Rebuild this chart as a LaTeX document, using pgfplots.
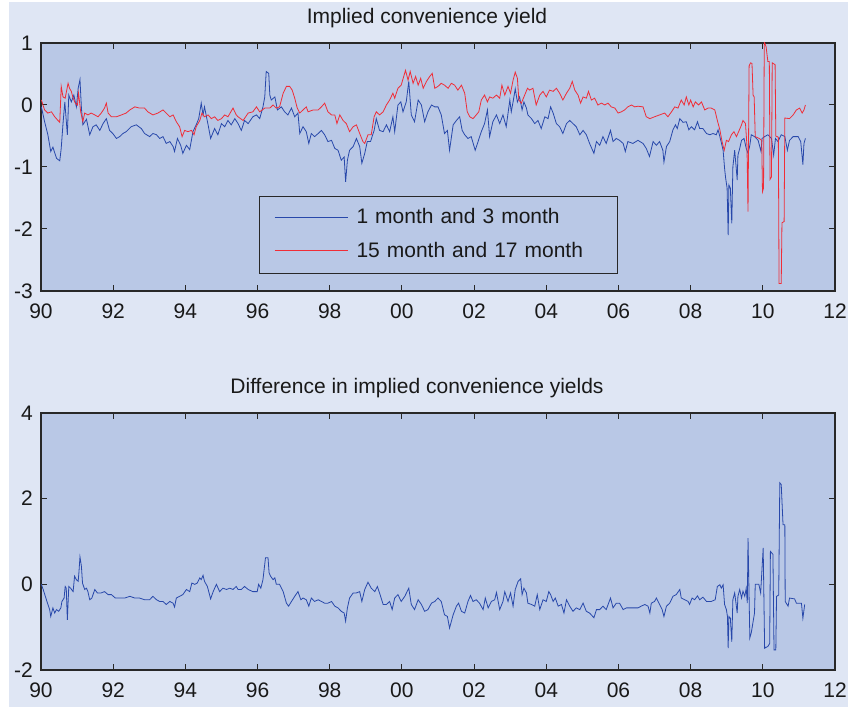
\documentclass[border=0pt]{standalone}
\usepackage{fontspec}
\setmainfont{Liberation Sans}
\usepackage{pgfplots}
\pgfplotsset{compat=1.18}
\definecolor{outerbg}{RGB}{223,230,244}
\definecolor{axisbg}{RGB}{185,200,230}
\definecolor{bline}{RGB}{40,72,170}
\definecolor{rline}{RGB}{240,45,55}
\definecolor{axcol}{RGB}{40,40,40}
\definecolor{txtcol}{RGB}{25,25,25}
\newcommand{\bigf}{\fontsize{21}{25}\selectfont}
\pgfplotsset{
  mybox/.style={
    scale only axis, width=794pt,
    xmin=1990, xmax=2012,
    xtick={1990,1992,...,2012},
    xticklabels={90,92,94,96,98,00,02,04,06,08,10,12},
    tick align=inside, major tick length=6pt,
    axis background/.style={fill=axisbg},
    axis line style={line width=1.2pt, draw=axcol},
    every tick/.style={line width=1pt, draw=axcol},
    tick label style={font=\bigf, text=txtcol, inner sep=0pt},
    xticklabel style={yshift=-13pt},
    yticklabel style={xshift=-8pt},
    clip=true,
  }
}
\begin{document}
\begin{tikzpicture}
\useasboundingbox (0,0) rectangle (848pt,709pt);
\fill[white] (0,0) rectangle (848pt,709pt);
\fill[outerbg] (9pt,2pt) rectangle (848pt,707pt);
\node[anchor=base, font=\bigf, text=txtcol] at (427pt,685pt) {Implied convenience yield};
\node[anchor=base, font=\bigf, text=txtcol] at (417pt,315pt) {Difference in implied convenience yields};

\begin{axis}[mybox, at={(41pt,418pt)}, anchor=south west, height=248pt,
  ymin=-3, ymax=1, ytick={-3,-2,-1,0,1}, yticklabels={-3,-2,-1,0,1},
  legend style={at={(0.2746,0.383)}, anchor=north west,
    draw=axcol, line width=1pt, fill=axisbg, font=\bigf, text=txtcol,
    inner xsep=0pt, inner ysep=5pt, row sep=0pt, column sep=0pt,
    nodes={inner sep=0pt, text width=261pt}},
  legend cell align=left,
  legend image code/.code={\path[draw=none,fill=none] (-15pt,-17.8pt) rectangle (82pt,15.5pt); \draw[#1] (0pt,0pt) -- (73pt,0pt);},
]
\addplot[bline, line width=0.8pt] coordinates {
(1990.01,-0.03)(1990.10,-0.27)(1990.19,-0.48)(1990.27,-0.75)(1990.33,-0.68)(1990.43,-0.86)(1990.52,-0.90)(1990.56,-0.70)(1990.61,-0.30)(1990.66,0.05)(1990.73,-0.48)(1990.77,0.16)(1990.84,0.05)(1990.91,0.16)(1990.98,-0.03)(1991.03,0.27)(1991.08,0.41)(1991.12,-0.05)(1991.16,-0.32)(1991.26,-0.23)(1991.35,-0.48)(1991.44,-0.35)(1991.53,-0.32)(1991.63,-0.41)(1991.72,-0.30)(1991.81,-0.22)(1991.90,-0.41)(1991.99,-0.46)(1992.09,-0.54)(1992.18,-0.51)(1992.27,-0.46)(1992.36,-0.43)(1992.50,-0.35)(1992.64,-0.32)(1992.78,-0.38)(1992.87,-0.46)(1993.01,-0.51)(1993.10,-0.46)(1993.20,-0.48)(1993.29,-0.54)(1993.38,-0.51)(1993.47,-0.62)(1993.57,-0.59)(1993.66,-0.67)(1993.70,-0.75)(1993.78,-0.54)(1993.87,-0.65)(1993.93,-0.78)(1994.03,-0.65)(1994.12,-0.72)(1994.21,-0.43)(1994.30,-0.32)(1994.37,-0.22)(1994.44,0.03)(1994.49,-0.16)(1994.53,-0.03)(1994.63,-0.32)(1994.70,-0.54)(1994.81,-0.38)(1994.90,-0.48)(1995.00,-0.30)(1995.09,-0.35)(1995.18,-0.25)(1995.27,-0.32)(1995.37,-0.22)(1995.46,-0.30)(1995.55,-0.41)(1995.64,-0.25)(1995.74,-0.30)(1995.87,-0.19)(1995.97,-0.16)(1996.06,-0.22)(1996.15,-0.03)(1996.20,0.13)(1996.24,0.54)(1996.31,0.51)(1996.34,0.16)(1996.38,0.08)(1996.48,0.13)(1996.55,-0.08)(1996.66,-0.03)(1996.75,-0.11)(1996.84,-0.16)(1996.94,-0.05)(1997.03,-0.19)(1997.12,-0.13)(1997.17,-0.46)(1997.26,-0.35)(1997.35,-0.43)(1997.42,-0.62)(1997.49,-0.46)(1997.58,-0.51)(1997.68,-0.46)(1997.77,-0.41)(1997.86,-0.48)(1997.95,-0.59)(1998.05,-0.57)(1998.14,-0.70)(1998.23,-0.73)(1998.32,-0.89)(1998.40,-0.84)(1998.44,-1.24)(1998.49,-0.89)(1998.55,-0.73)(1998.65,-0.67)(1998.74,-0.54)(1998.83,-0.67)(1998.89,-0.94)(1998.97,-0.78)(1999.04,-0.59)(1999.13,-0.59)(1999.23,-0.41)(1999.29,-0.22)(1999.38,-0.41)(1999.48,-0.43)(1999.57,-0.32)(1999.66,-0.43)(1999.75,-0.19)(1999.80,-0.43)(1999.89,0.00)(1999.97,0.05)(2000.03,-0.11)(2000.12,0.05)(2000.19,0.38)(2000.26,-0.16)(2000.35,-0.27)(2000.45,0.08)(2000.54,0.00)(2000.63,-0.27)(2000.72,-0.11)(2000.82,0.00)(2000.91,-0.03)(2001.00,-0.03)(2001.09,-0.16)(2001.18,-0.46)(2001.26,-0.41)(2001.32,-0.73)(2001.42,-0.32)(2001.51,-0.25)(2001.60,-0.19)(2001.67,-0.41)(2001.74,-0.48)(2001.83,-0.54)(2001.92,-0.51)(2002.03,-0.73)(2002.11,-0.59)(2002.20,-0.43)(2002.29,-0.30)(2002.37,-0.08)(2002.43,-0.51)(2002.52,-0.27)(2002.62,-0.16)(2002.71,-0.30)(2002.80,-0.16)(2002.89,-0.35)(2002.99,0.08)(2003.03,-0.11)(2003.08,0.05)(2003.14,0.26)(2003.20,0.05)(2003.26,0.13)(2003.33,-0.08)(2003.38,0.05)(2003.45,-0.05)(2003.49,-0.16)(2003.59,-0.22)(2003.68,-0.30)(2003.77,-0.25)(2003.86,-0.38)(2003.96,-0.19)(2004.05,-0.22)(2004.12,-0.03)(2004.19,-0.13)(2004.28,-0.30)(2004.37,-0.35)(2004.46,-0.46)(2004.56,-0.30)(2004.65,-0.25)(2004.74,-0.30)(2004.83,-0.35)(2004.93,-0.48)(2005.02,-0.41)(2005.11,-0.48)(2005.20,-0.62)(2005.32,-0.78)(2005.39,-0.59)(2005.48,-0.65)(2005.57,-0.51)(2005.66,-0.62)(2005.78,-0.41)(2005.85,-0.59)(2005.94,-0.54)(2006.03,-0.57)(2006.13,-0.62)(2006.19,-0.75)(2006.26,-0.59)(2006.40,-0.62)(2006.54,-0.57)(2006.68,-0.62)(2006.77,-0.70)(2006.86,-0.83)(2006.96,-0.59)(2007.05,-0.65)(2007.14,-0.59)(2007.23,-0.73)(2007.26,-0.92)(2007.33,-0.67)(2007.42,-0.59)(2007.51,-0.40)(2007.58,-0.32)(2007.63,-0.38)(2007.70,-0.22)(2007.79,-0.28)(2007.88,-0.27)(2007.95,-0.40)(2008.02,-0.35)(2008.11,-0.40)(2008.19,-0.27)(2008.25,-0.38)(2008.34,-0.38)(2008.44,-0.46)(2008.53,-0.48)(2008.62,-0.46)(2008.71,-0.48)(2008.76,-0.40)(2008.81,-0.51)(2008.90,-0.73)(2008.94,-1.02)(2008.97,-1.18)(2009.01,-1.34)(2009.04,-2.10)(2009.06,-1.29)(2009.10,-1.34)(2009.14,-1.91)(2009.17,-1.00)(2009.22,-0.73)(2009.26,-1.00)(2009.29,-1.21)(2009.31,-0.81)(2009.36,-0.70)(2009.41,-0.57)(2009.48,-0.54)(2009.54,-0.70)(2009.59,-0.78)(2009.64,-0.65)(2009.68,-0.48)(2009.77,-0.51)(2009.87,-0.57)(2009.95,-0.75)(2009.98,-0.54)(2010.05,-0.51)(2010.14,-0.48)(2010.24,-0.54)(2010.30,-0.81)(2010.35,-0.54)(2010.42,-0.59)(2010.51,-0.48)(2010.61,-0.51)(2010.68,-0.73)(2010.74,-0.57)(2010.84,-0.51)(2010.98,-0.51)(2011.05,-0.59)(2011.11,-0.96)(2011.14,-0.62)(2011.18,-0.54)
};
\addlegendentry{1 month and 3 month}
\addplot[rline, line width=0.8pt] coordinates {
(1990.01,0.08)(1990.10,-0.08)(1990.19,-0.13)(1990.29,-0.11)(1990.38,-0.19)(1990.47,-0.25)(1990.52,-0.28)(1990.56,0.30)(1990.61,0.13)(1990.67,0.11)(1990.75,0.35)(1990.79,0.27)(1990.84,0.22)(1990.89,0.11)(1990.95,0.03)(1991.01,0.00)(1991.04,0.19)(1991.10,-0.11)(1991.16,-0.27)(1991.21,-0.13)(1991.30,-0.16)(1991.39,-0.13)(1991.49,-0.16)(1991.58,-0.19)(1991.67,-0.13)(1991.76,-0.05)(1991.81,0.03)(1991.86,-0.13)(1991.95,-0.19)(1992.09,-0.19)(1992.23,-0.16)(1992.36,-0.13)(1992.46,-0.08)(1992.60,-0.03)(1992.73,-0.05)(1992.87,-0.05)(1992.96,-0.11)(1993.10,-0.16)(1993.24,-0.13)(1993.38,-0.08)(1993.47,-0.13)(1993.57,-0.19)(1993.66,-0.16)(1993.75,-0.27)(1993.84,-0.35)(1993.91,-0.51)(1993.98,-0.41)(1994.07,-0.43)(1994.17,-0.41)(1994.24,-0.48)(1994.30,-0.35)(1994.40,-0.25)(1994.46,-0.13)(1994.53,-0.19)(1994.63,-0.16)(1994.72,-0.22)(1994.81,-0.19)(1994.90,-0.25)(1995.00,-0.22)(1995.09,-0.16)(1995.18,-0.19)(1995.32,-0.05)(1995.41,-0.16)(1995.46,-0.19)(1995.60,-0.25)(1995.74,-0.13)(1995.87,-0.11)(1995.97,-0.03)(1996.06,-0.11)(1996.20,-0.05)(1996.34,-0.05)(1996.43,0.00)(1996.52,-0.05)(1996.61,-0.03)(1996.71,0.19)(1996.80,0.30)(1996.89,0.30)(1996.96,0.24)(1997.03,0.11)(1997.10,-0.05)(1997.17,-0.13)(1997.26,-0.08)(1997.35,-0.03)(1997.40,-0.11)(1997.54,-0.08)(1997.68,-0.08)(1997.77,-0.03)(1997.86,0.03)(1997.95,-0.11)(1998.05,-0.16)(1998.14,-0.16)(1998.20,-0.30)(1998.28,-0.16)(1998.37,-0.25)(1998.46,-0.30)(1998.55,-0.43)(1998.65,-0.35)(1998.74,-0.32)(1998.83,-0.46)(1998.92,-0.59)(1998.97,-0.62)(1999.06,-0.48)(1999.15,-0.48)(1999.23,-0.19)(1999.29,-0.11)(1999.38,-0.16)(1999.48,-0.11)(1999.57,0.00)(1999.66,0.08)(1999.75,0.19)(1999.80,0.11)(1999.89,0.27)(1999.98,0.32)(2000.05,0.46)(2000.10,0.56)(2000.17,0.40)(2000.23,0.54)(2000.31,0.35)(2000.38,0.46)(2000.45,0.32)(2000.52,0.43)(2000.59,0.27)(2000.68,0.38)(2000.77,0.46)(2000.84,0.51)(2000.91,0.27)(2001.00,0.30)(2001.09,0.35)(2001.18,0.32)(2001.28,0.27)(2001.37,0.35)(2001.46,0.32)(2001.55,0.24)(2001.65,0.32)(2001.74,0.19)(2001.81,-0.11)(2001.88,-0.19)(2001.97,-0.22)(2002.06,-0.16)(2002.13,-0.11)(2002.20,0.08)(2002.29,0.16)(2002.37,0.05)(2002.43,0.13)(2002.52,0.11)(2002.62,0.16)(2002.71,0.11)(2002.77,0.32)(2002.85,0.16)(2002.94,0.30)(2003.01,0.19)(2003.08,0.40)(2003.14,0.53)(2003.20,0.43)(2003.24,0.08)(2003.31,0.03)(2003.38,0.13)(2003.48,0.27)(2003.54,0.24)(2003.63,0.27)(2003.72,0.00)(2003.82,0.16)(2003.91,0.22)(2004.00,0.13)(2004.09,0.24)(2004.19,0.22)(2004.28,0.27)(2004.37,0.19)(2004.46,0.08)(2004.56,0.19)(2004.65,0.27)(2004.72,0.38)(2004.79,0.24)(2004.88,0.16)(2004.95,0.03)(2005.02,0.13)(2005.11,0.11)(2005.17,0.22)(2005.25,0.08)(2005.34,0.11)(2005.43,0.00)(2005.53,0.03)(2005.62,0.00)(2005.71,0.03)(2005.80,-0.03)(2005.90,-0.05)(2005.99,-0.13)(2006.08,-0.11)(2006.17,-0.08)(2006.26,-0.03)(2006.36,0.00)(2006.45,-0.03)(2006.54,-0.02)(2006.68,-0.03)(2006.77,-0.19)(2006.87,-0.22)(2007.00,-0.19)(2007.14,-0.16)(2007.28,-0.13)(2007.37,-0.19)(2007.47,-0.11)(2007.56,-0.03)(2007.65,-0.05)(2007.74,0.08)(2007.82,0.00)(2007.88,0.13)(2007.95,0.00)(2008.00,0.08)(2008.07,-0.03)(2008.13,0.05)(2008.22,0.00)(2008.30,0.05)(2008.39,-0.08)(2008.48,-0.05)(2008.57,-0.05)(2008.67,-0.08)(2008.74,-0.25)(2008.81,-0.40)(2008.87,-0.59)(2008.93,-0.73)(2008.99,-0.57)(2009.05,-0.59)(2009.13,-0.48)(2009.20,-0.43)(2009.27,-0.51)(2009.33,-0.43)(2009.41,-0.32)(2009.45,-0.25)(2009.52,-0.30)(2009.56,-0.65)(2009.59,-1.72)(2009.62,0.63)(2009.66,0.68)(2009.70,0.67)(2009.73,0.16)(2009.76,0.13)(2009.79,-0.51)(2009.90,-0.54)(2009.97,-0.57)(2009.99,-1.40)(2010.02,-1.34)(2010.04,1.02)(2010.09,0.94)(2010.14,0.70)(2010.18,0.70)(2010.20,-1.20)(2010.24,-1.16)(2010.26,0.68)(2010.34,0.65)(2010.36,-0.50)(2010.43,-0.52)(2010.45,-2.88)(2010.51,-2.88)(2010.53,-1.90)(2010.59,-1.88)(2010.61,-0.21)(2010.74,-0.22)(2010.84,-0.16)(2010.93,-0.08)(2011.02,-0.05)(2011.09,-0.13)(2011.14,-0.08)(2011.18,0.00)
};
\addlegendentry{15 month and 17 month}
\end{axis}

\begin{axis}[mybox, at={(41pt,39pt)}, anchor=south west, height=257pt,
  ymin=-2, ymax=4, ytick={-2,0,2,4}, yticklabels={-2,0,2,4}]
\addplot[bline, line width=0.8pt] coordinates {
(1990.01,0.00)(1990.06,-0.12)(1990.15,-0.36)(1990.24,-0.59)(1990.27,-0.75)(1990.33,-0.55)(1990.38,-0.67)(1990.43,-0.59)(1990.49,-0.63)(1990.55,-0.55)(1990.58,-0.40)(1990.64,-0.32)(1990.67,-0.05)(1990.70,-0.09)(1990.73,-0.83)(1990.77,-0.05)(1990.82,-0.09)(1990.89,-0.17)(1990.93,0.19)(1990.98,0.11)(1991.03,0.07)(1991.05,0.27)(1991.08,0.64)(1991.12,0.42)(1991.15,0.03)(1991.21,-0.12)(1991.26,-0.09)(1991.30,-0.17)(1991.35,-0.36)(1991.41,-0.32)(1991.49,-0.12)(1991.56,-0.20)(1991.67,-0.20)(1991.76,-0.17)(1991.86,-0.24)(1991.95,-0.24)(1992.06,-0.32)(1992.18,-0.32)(1992.32,-0.32)(1992.46,-0.28)(1992.60,-0.32)(1992.73,-0.32)(1992.87,-0.36)(1993.01,-0.36)(1993.10,-0.28)(1993.20,-0.36)(1993.29,-0.40)(1993.38,-0.40)(1993.47,-0.47)(1993.57,-0.40)(1993.66,-0.44)(1993.70,-0.53)(1993.75,-0.32)(1993.84,-0.28)(1993.93,-0.24)(1994.03,-0.12)(1994.12,-0.17)(1994.18,0.03)(1994.26,0.00)(1994.33,0.03)(1994.40,0.15)(1994.44,0.11)(1994.49,0.21)(1994.53,0.07)(1994.61,-0.05)(1994.70,-0.34)(1994.77,-0.17)(1994.86,0.00)(1994.95,-0.17)(1995.04,-0.09)(1995.14,-0.12)(1995.23,-0.09)(1995.32,-0.12)(1995.41,-0.05)(1995.46,-0.12)(1995.55,-0.12)(1995.64,-0.05)(1995.74,-0.12)(1995.87,-0.17)(1995.99,-0.17)(1996.03,0.00)(1996.09,-0.09)(1996.15,0.11)(1996.22,0.62)(1996.29,0.62)(1996.32,0.27)(1996.36,0.19)(1996.43,0.11)(1996.48,0.15)(1996.52,0.00)(1996.61,0.00)(1996.71,-0.17)(1996.80,-0.44)(1996.86,-0.51)(1996.94,-0.40)(1997.03,-0.28)(1997.12,-0.17)(1997.20,-0.36)(1997.26,-0.32)(1997.35,-0.36)(1997.42,-0.51)(1997.49,-0.32)(1997.58,-0.40)(1997.68,-0.36)(1997.77,-0.40)(1997.86,-0.44)(1997.95,-0.44)(1998.05,-0.40)(1998.14,-0.51)(1998.23,-0.55)(1998.32,-0.63)(1998.40,-0.67)(1998.44,-0.86)(1998.49,-0.55)(1998.55,-0.32)(1998.65,-0.20)(1998.74,-0.20)(1998.83,-0.17)(1998.89,-0.40)(1998.97,-0.12)(1999.06,0.05)(1999.15,-0.09)(1999.25,-0.17)(1999.32,-0.05)(1999.38,-0.20)(1999.48,-0.47)(1999.57,-0.47)(1999.66,-0.40)(1999.73,-0.59)(1999.80,-0.32)(1999.89,-0.24)(1999.98,-0.40)(2000.08,-0.28)(2000.19,-0.09)(2000.26,-0.47)(2000.35,-0.59)(2000.45,-0.36)(2000.54,-0.47)(2000.63,-0.63)(2000.72,-0.59)(2000.82,-0.44)(2000.91,-0.40)(2001.00,-0.32)(2001.09,-0.40)(2001.18,-0.71)(2001.26,-0.75)(2001.32,-1.02)(2001.42,-0.71)(2001.51,-0.51)(2001.57,-0.44)(2001.65,-0.63)(2001.74,-0.67)(2001.83,-0.40)(2001.90,-0.26)(2001.97,-0.40)(2002.06,-0.36)(2002.15,-0.44)(2002.25,-0.59)(2002.31,-0.32)(2002.39,-0.55)(2002.48,-0.40)(2002.57,-0.36)(2002.62,-0.19)(2002.71,-0.59)(2002.80,-0.40)(2002.85,-0.17)(2002.94,-0.40)(2003.01,-0.20)(2003.08,-0.51)(2003.14,-0.12)(2003.22,0.07)(2003.29,0.13)(2003.33,-0.24)(2003.38,-0.09)(2003.45,-0.20)(2003.49,-0.44)(2003.59,-0.47)(2003.68,-0.51)(2003.75,-0.24)(2003.82,-0.59)(2003.91,-0.36)(2004.00,-0.40)(2004.07,-0.17)(2004.12,-0.24)(2004.19,-0.40)(2004.25,-0.32)(2004.33,-0.51)(2004.42,-0.47)(2004.49,-0.67)(2004.56,-0.36)(2004.65,-0.51)(2004.74,-0.63)(2004.83,-0.55)(2004.93,-0.59)(2005.02,-0.44)(2005.11,-0.63)(2005.20,-0.67)(2005.32,-0.78)(2005.39,-0.59)(2005.48,-0.59)(2005.57,-0.51)(2005.66,-0.59)(2005.78,-0.32)(2005.85,-0.55)(2005.94,-0.44)(2006.03,-0.44)(2006.13,-0.59)(2006.22,-0.55)(2006.31,-0.55)(2006.45,-0.55)(2006.54,-0.55)(2006.63,-0.51)(2006.73,-0.47)(2006.82,-0.51)(2006.87,-0.67)(2006.91,-0.44)(2007.00,-0.40)(2007.05,-0.32)(2007.14,-0.47)(2007.21,-0.59)(2007.26,-0.75)(2007.33,-0.51)(2007.42,-0.44)(2007.51,-0.28)(2007.60,-0.24)(2007.70,-0.12)(2007.74,-0.32)(2007.84,-0.36)(2007.93,-0.40)(2007.97,-0.47)(2008.04,-0.32)(2008.11,-0.36)(2008.19,-0.27)(2008.25,-0.36)(2008.34,-0.30)(2008.44,-0.40)(2008.57,-0.40)(2008.68,-0.36)(2008.74,-0.05)(2008.81,-0.01)(2008.85,-0.09)(2008.90,-0.01)(2008.94,-0.47)(2008.99,-0.59)(2009.02,-0.75)(2009.04,-1.49)(2009.06,-0.75)(2009.10,-0.79)(2009.14,-1.34)(2009.17,-0.36)(2009.22,-0.20)(2009.25,-0.40)(2009.29,-0.67)(2009.31,-0.28)(2009.36,-0.12)(2009.41,-0.32)(2009.45,-0.16)(2009.50,-0.28)(2009.54,-0.09)(2009.57,-0.44)(2009.59,1.08)(2009.64,-1.25)(2009.68,-1.13)(2009.77,-0.67)(2009.79,0.00)(2009.89,0.00)(2009.94,-0.20)(2010.01,0.85)(2010.05,-1.49)(2010.14,-1.45)(2010.19,-1.38)(2010.21,0.77)(2010.28,0.70)(2010.31,-1.53)(2010.36,-1.53)(2010.38,-0.28)(2010.44,-0.25)(2010.47,2.37)(2010.51,2.33)(2010.56,1.39)(2010.61,1.39)(2010.62,-0.40)(2010.70,-0.51)(2010.74,-0.32)(2010.88,-0.34)(2010.93,-0.44)(2011.07,-0.44)(2011.11,-0.79)(2011.16,-0.47)
};
\end{axis}
\end{tikzpicture}
\end{document}
